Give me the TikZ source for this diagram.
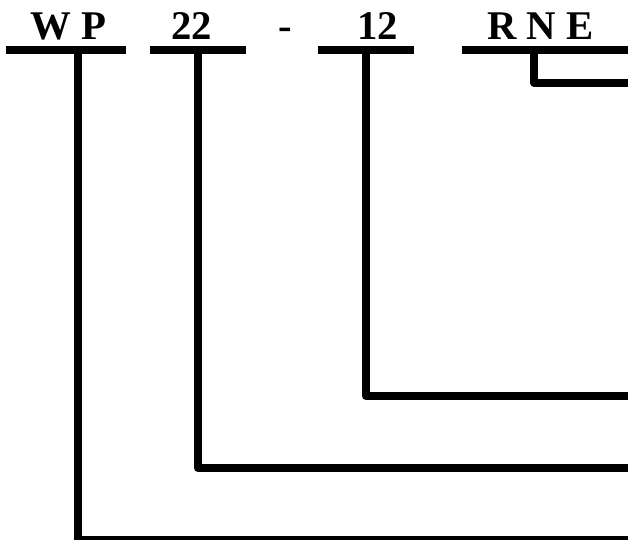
\documentclass[tikz,border=0pt]{standalone}
\usepackage{fontspec}
\setmainfont{Liberation Serif}
\usepackage{tikz}

\begin{document}
\begin{tikzpicture}[every node/.style={font=\fontsize{29}{35}\selectfont\bfseries, inner sep=0pt, anchor=base},
	code line/.style={line width=0.2cm, line join=round}]
	\useasboundingbox (0,0) rectangle (15.7,-13.475);
	% code parts
	\node (wp) at (1.7,-0.975) {W P};
	\node (n22) at (4.79,-0.975) {22};
	\node (sep) at (7.125,-0.975) {-};
	\node (n12) at (9.44,-0.975) {12};
	\node (rne) at (13.51,-0.975) {R N E};
	% underlines
	\draw[code line] (0.15,-1.26) -- (3.15,-1.26);
	\draw[code line] (3.75,-1.26) -- (6.15,-1.26);
	\draw[code line] (7.95,-1.26) -- (10.35,-1.26);
	\draw[code line] (11.55,-1.26) -- (15.7,-1.26);
	% branches to the right edge
	\coordinate (wp-top) at (1.95,-1.26);
	\coordinate (wp-end) at (15.7,-13.5);
	\coordinate (n22-top) at (4.95,-1.26);
	\coordinate (n22-end) at (15.7,-11.7);
	\coordinate (n12-top) at (9.15,-1.26);
	\coordinate (n12-end) at (15.7,-9.9);
	\coordinate (rne-top) at (13.36,-1.26);
	\coordinate (rne-end) at (15.7,-2.075);
	\draw[code line] (wp-top) |- (wp-end);
	\draw[code line] (n22-top) |- (n22-end);
	\draw[code line] (n12-top) |- (n12-end);
	\draw[code line] (rne-top) |- (rne-end);
\end{tikzpicture}
\end{document}
